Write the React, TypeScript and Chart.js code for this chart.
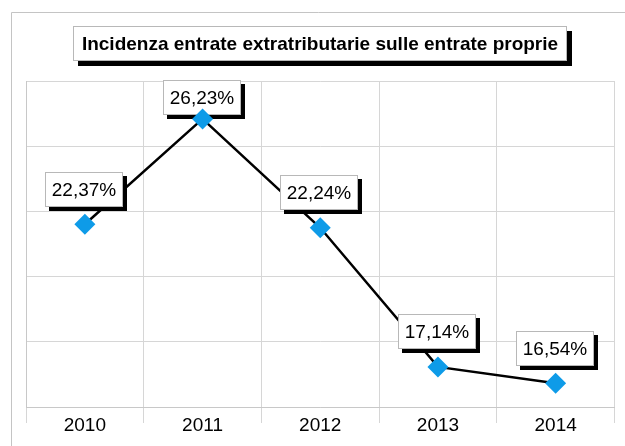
import React, { useEffect, useRef } from "react";
import { Chart, registerables } from "chart.js";

Chart.register(...registerables);

const categories = ["2010", "2011", "2012", "2013", "2014"];
const values = [22.37, 26.23, 22.24, 17.14, 16.54];
const chartTitle = "Incidenza entrate extratributarie sulle entrate proprie";
const yMin = 15.67;
const yMax = 27.62;

const FONT = "'Liberation Sans', Arial, sans-serif";
const W = 625;
const H = 446;

const decorPlugin = {
  id: "decor",
  beforeDraw(chart: any) {
    const ctx = chart.ctx;
    ctx.save();
    ctx.fillStyle = "#ffffff";
    ctx.fillRect(0, 0, W, H);
    // outer frame
    ctx.strokeStyle = "#c4c4c4";
    ctx.lineWidth = 1;
    ctx.beginPath();
    ctx.moveTo(11.5, H + 5);
    ctx.lineTo(11.5, 12.5);
    ctx.lineTo(W + 5, 12.5);
    ctx.stroke();
    // title box with shadow
    const bx = 73, by = 26, bw = 494, bh = 35;
    ctx.fillStyle = "#000000";
    ctx.fillRect(bx + 5, by + 5, bw, bh);
    ctx.fillStyle = "#ffffff";
    ctx.fillRect(bx, by, bw, bh);
    ctx.strokeStyle = "#b8b8b8";
    ctx.strokeRect(bx + 0.5, by + 0.5, bw - 1, bh - 1);
    ctx.fillStyle = "#000000";
    ctx.font = `bold 19px ${FONT}`;
    ctx.textAlign = "center";
    ctx.textBaseline = "middle";
    ctx.fillText(chartTitle, bx + bw / 2, by + bh / 2 + 1);
    ctx.restore();
  },
  afterDatasetDraw(chart: any, args: any) {
    if (args.index !== 0) return;
    const ctx = chart.ctx;
    const meta = chart.getDatasetMeta(0);
    const top = chart.chartArea.top;
    ctx.save();
    ctx.font = `19px ${FONT}`;
    ctx.textAlign = "center";
    ctx.textBaseline = "middle";
    meta.data.forEach((pt: any, i: number) => {
      const bw = 78, bh = 35;
      const cx = pt.x - 1;
      let boxTop = pt.y - 35 - bh / 2;
      if (boxTop < top - 1) boxTop = top - 1;
      const bx = Math.round(cx - bw / 2);
      const by = Math.round(boxTop);
      ctx.fillStyle = "#000000";
      ctx.fillRect(bx + 4, by + 4, bw, bh);
      ctx.fillStyle = "#ffffff";
      ctx.fillRect(bx, by, bw, bh);
      ctx.strokeStyle = "#b8b8b8";
      ctx.lineWidth = 1;
      ctx.strokeRect(bx + 0.5, by + 0.5, bw - 1, bh - 1);
      ctx.fillStyle = "#000000";
      const txt = values[i].toFixed(2).replace(".", ",") + "%";
      ctx.fillText(txt, bx + bw / 2, by + bh / 2 + 1);
    });
    ctx.restore();
  },
};

export default function App() {
  const ref = useRef<HTMLCanvasElement | null>(null);
  useEffect(() => {
    if (!ref.current) return;
    const chart = new Chart(ref.current, {
      type: "line",
      data: {
        labels: categories,
        datasets: [
          {
            data: values,
            borderColor: "#000000",
            borderWidth: 2.5,
            pointRadius: 0,
            fill: false,
            tension: 0,
            order: 2,
          },
          {
            data: values,
            showLine: false,
            pointStyle: "rectRot",
            pointRadius: 10.5,
            pointBackgroundColor: "#0e9be8",
            pointBorderColor: "#0e9be8",
            pointBorderWidth: 0,
            order: 1,
          },
        ],
      },
      options: {
        responsive: false,
        animation: false,
        devicePixelRatio: 1,
        layout: { padding: { left: 26, right: 7, top: 81, bottom: 0 } },
        plugins: {
          legend: { display: false },
          title: { display: false },
          tooltip: { enabled: false },
        },
        scales: {
          x: {
            offset: true,
            grid: {
              offset: true,
              color: "#d6d6d6",
              lineWidth: 1,
              tickLength: 16,
              drawTicks: true,
            },
            border: { display: true, color: "#c8c8c8" },
            ticks: {
              color: "#000000",
              font: { family: FONT, size: 19 },
              padding: -9,
              maxRotation: 0,
            },
            afterFit(scale: any) {
              scale.height = 39;
            },
          },
          y: {
            min: yMin,
            max: yMax,
            grid: { color: "#d6d6d6", lineWidth: 1, drawTicks: false },
            border: { display: true, color: "#c8c8c8" },
            ticks: { display: false },
            afterBuildTicks(scale: any) {
              const t = [];
              for (let i = 0; i <= 5; i++) t.push({ value: yMin + (i * (yMax - yMin)) / 5 });
              scale.ticks = t;
            },
            afterFit(scale: any) {
              scale.width = 0;
            },
          },
        },
      },
      plugins: [decorPlugin],
    });
    return () => chart.destroy();
  }, []);
  return (
    <div style={{ position: "fixed", left: 0, top: 0, width: W, height: H, background: "#fff" }}>
      <canvas ref={ref} width={W} height={H} style={{ display: "block", width: W, height: H }} />
    </div>
  );
}
